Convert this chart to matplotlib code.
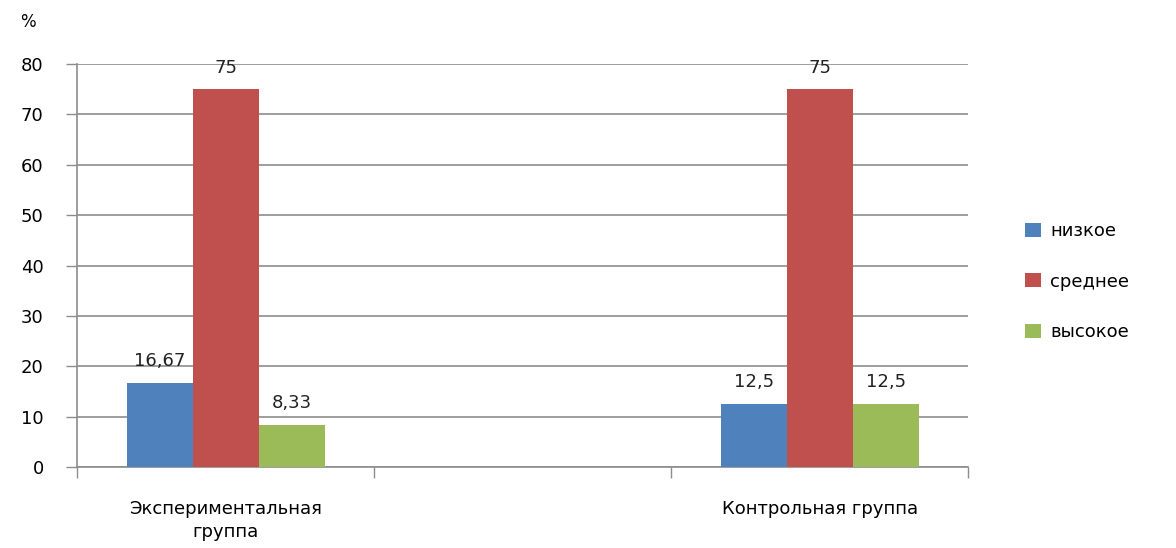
import matplotlib.pyplot as plt
import numpy as np

groups = ["Экспериментальная\nгруппа", "", "Контрольная группа"]
series_names = ["низкое", "среднее", "высокое"]
low = [16.67, None, 12.5]
mid = [75, None, 75]
high = [8.33, None, 12.5]
value_labels = [["16,67", "", "12,5"], ["75", "", "75"], ["8,33", "", "12,5"]]
colors = ["#4F81BD", "#C0504D", "#9BBB59"]

plt.rcParams["font.family"] = ["DejaVu Sans"]

fig = plt.figure(figsize=(11.76, 5.48), dpi=100)
ax = fig.add_axes([0.0655, 0.148, 0.758, 0.735])

x = np.arange(len(groups))
bar_w = 0.222
for i, (vals, name, col) in enumerate(zip([low, mid, high], series_names, colors)):
    xs = [xi + (i - 1) * bar_w for xi, v in zip(x, vals) if v is not None]
    hs = [v for v in vals if v is not None]
    labs = [l for l, v in zip(value_labels[i], vals) if v is not None]
    bars = ax.bar(xs, hs, width=bar_w, color=col, label=name, zorder=3)
    for b, lab in zip(bars, labs):
        ax.annotate(lab, (b.get_x() + b.get_width() / 2, b.get_height()),
                    xytext=(0, 9), textcoords="offset points",
                    ha="center", va="bottom", fontsize=13, color="#222222")

ax.set_xlim(-0.5, 2.5)
ax.set_ylim(0, 80)
ax.set_yticks(range(0, 81, 10))
ax.yaxis.grid(True, color="#8c8c8c", linewidth=1.2, zorder=0)
ax.tick_params(axis="y", length=8, width=1, color="#8c8c8c", labelsize=13, pad=16)
ax.set_xticks(x)
ax.set_xticklabels(groups, fontsize=13, linespacing=1.35)
ax.tick_params(axis="x", length=0, pad=24)
# boundary ticks on the category axis
ax.set_xticks([-0.5, 0.5, 1.5, 2.5], minor=True)
ax.tick_params(axis="x", which="minor", length=8, width=1, color="#8c8c8c", direction="out")

for side in ["top", "right"]:
    ax.spines[side].set_visible(False)
ax.spines["left"].set_color("#8c8c8c")
ax.spines["bottom"].set_color("#8c8c8c")
ax.spines["left"].set_linewidth(1.2)
ax.spines["bottom"].set_linewidth(1.2)

fig.text(0.017, 0.96, "%", fontsize=12, ha="left", va="center")

ax.legend(loc="center left", bbox_to_anchor=(1.045, 0.46), frameon=False,
          fontsize=13, handlelength=0.9, handleheight=0.8, labelspacing=1.8,
          handletextpad=0.5)

fig.savefig("out.png", dpi=100)
